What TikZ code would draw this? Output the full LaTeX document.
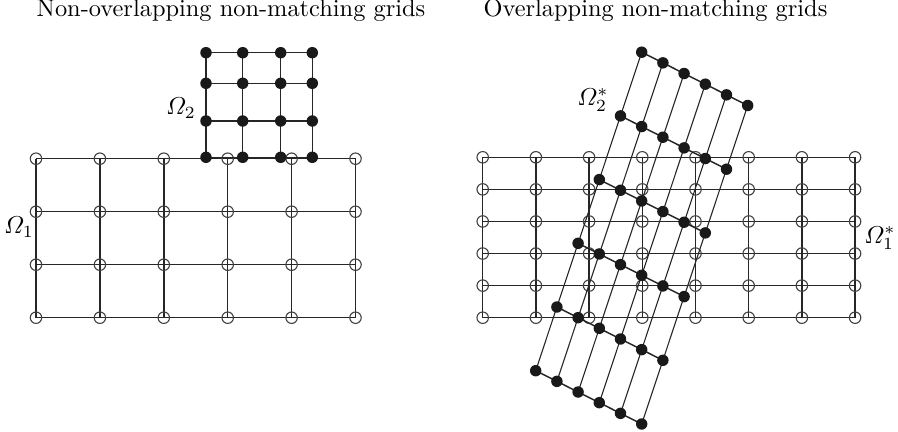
\documentclass[tikz,border=0pt]{standalone}
\usepackage{amsmath}
\usetikzlibrary{calc}

\begin{document}
\begin{tikzpicture}[
    x=0.41pt, y=-0.41pt,
    gridline/.style={line width=0.6pt, black!85},
    thinline/.style={line width=0.45pt, black!85},
    opendot/.style={circle, draw=black!75, line width=0.45pt, inner sep=0pt, minimum size=4.7pt},
    fulldot/.style={circle, fill=black!90, inner sep=0pt, minimum size=4.7pt},
    ttl/.style={anchor=base, font=\normalsize}
]
\useasboundingbox (0,0) rectangle (898,432);

% Titles
\node[ttl] (ttlleft) at (231,16) {Non-overlapping non-matching grids};
\node[ttl] (ttlright) at (655.5,16) {Overlapping non-matching grids};

% Omega_1 (left)
\foreach \i in {0,...,5}
  \foreach \j in {0,...,3}
    \coordinate (a-\i-\j) at (36+63.9*\i, 158.7+53*\j);
\foreach \i in {0,...,5} \draw[gridline] (a-\i-0) -- (a-\i-3);
\foreach \j in {0,...,3} \draw[gridline] (a-0-\j) -- (a-5-\j);
\foreach \i in {0,...,5}
  \foreach \j in {0,...,3}
    \node[opendot] (oa-\i-\j) at (a-\i-\j) {};

% Omega_2 (left)
\foreach \x [count=\i] in {206,242.7,280.7,312.3}
  \foreach \y [count=\j] in {52.7,83.3,121,157.3}
    \coordinate (b-\i-\j) at (\x,\y);
\foreach \i in {1,...,4} \draw[gridline] (b-\i-1) -- (b-\i-4);
\foreach \j in {1,...,4} \draw[gridline] (b-1-\j) -- (b-4-\j);
\foreach \i in {1,...,4}
  \foreach \j in {1,...,4}
    \node[fulldot] (fb-\i-\j) at (b-\i-\j) {};

% Omega_1^* (right)
\foreach \i in {0,...,7}
  \foreach \j in {0,...,5}
    \coordinate (c-\i-\j) at (482.7+53.2*\i, 157.3+32.08*\j);
\foreach \i in {0,...,7} \draw[gridline] (c-\i-0) -- (c-\i-5);
\foreach \j in {0,...,5} \draw[gridline] (c-0-\j) -- (c-7-\j);
\foreach \i in {0,...,7}
  \foreach \j in {0,...,5}
    \node[opendot] (oc-\i-\j) at (c-\i-\j) {};

% Omega_2^* (right, tilted)
\foreach \i in {0,...,5}
  \foreach \j in {0,...,5}
    \coordinate (d-\i-\j) at (535.7+21.2*\i+21.2*\j, 370.7+10.66*\i-63.7*\j);
\foreach \i in {0,...,5} \draw[thinline] (d-\i-0) -- (d-\i-5);
\foreach \j in {0,...,5} \draw[gridline] (d-0-\j) -- (d-5-\j);
\foreach \i in {0,...,5}
  \foreach \j in {0,...,5}
    \node[fulldot] (fd-\i-\j) at (d-\i-\j) {};

% Labels
\node (om1) at (19,227) {$\varOmega_1$};
\node (om2) at (181,108) {$\varOmega_2$};
\node (om1s) at (880,238) {$\varOmega_1^*$};
\node (om2s) at (593,100) {$\varOmega_2^*$};

\end{tikzpicture}
\end{document}
